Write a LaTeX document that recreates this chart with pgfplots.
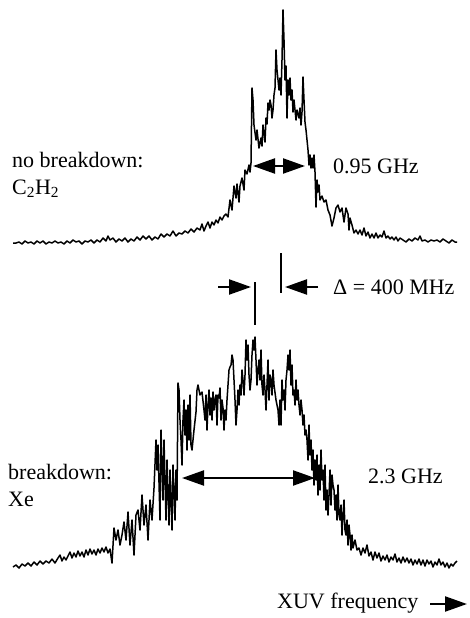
\documentclass[border=0pt]{standalone}
\usepackage{pgfplots}
\pgfplotsset{compat=1.18}
\usepackage{fontspec}
\setmainfont{Liberation Serif}
\usetikzlibrary{arrows.meta}
\newcommand{\bigf}{\fontsize{22}{27}\selectfont}
\tikzset{hd/.tip={Triangle[length=22pt,width=15pt]}}
\begin{document}
\begin{tikzpicture}
\begin{axis}[
  width=469pt, height=618pt, scale only axis,
  xmin=0, xmax=469, ymin=0, ymax=618, y dir=reverse,
  hide axis, clip=false,
]
\path[draw=none] (axis cs:0,0) rectangle (axis cs:469,618);
% upper spectrum: no breakdown, C2H2
\addplot[black, line width=1.5pt, line join=round] coordinates {
(13,243)(16,243)(19,242)(22,244)(25,241)(28,243)(31,242)(34,244)(37,241)(40,243)(43,241)(46,244)(49,242)(52,243)(55,241)(58,243)(61,242)(64,244)(67,241)(70,243)(73,240)(76,242)(79,241)(82,244)(85,241)(88,242)(91,240)(94,243)(97,240)(100,242)(103,238)(106,241)(108,236)(110,240)(113,238)(116,242)(119,239)(122,241)(125,238)(128,242)(131,239)(134,241)(137,237)(140,240)(143,236)(146,239)(149,236)(152,240)(155,237)(158,239)(161,234)(164,237)(167,234)(170,236)(173,231)(176,236)(179,233)(182,234)(185,231)(188,233)(191,229)(194,232)(197,228)(200,230)(202,224)(204,231)(206,226)(208,222)(210,228)(212,222)(214,225)(216,220)(218,223)(220,217)(222,220)(224,216)(226,214)(228,217)(230,200)(232,210)(234,186)(236,198)(237,184)(239,202)(240,186)(242,178)(244,190)(245,170)(247,174)(249,165)(250,172)(251,163)(252,88)(253,100)(254,125)(256,140)(257,130)(259,148)(261,138)(262,146)(263,125)(265,142)(266,118)(267,124)(268,103)(269,110)(270,100)(271,105)(272,118)(273,110)(274,95)(275,88)(276,50)(277,70)(278,80)(279,90)(280,78)(281,95)(282,60)(283,10)(284,40)(285,80)(286,66)(287,118)(288,80)(289,95)(290,78)(291,100)(292,90)(293,112)(294,100)(296,120)(297,110)(299,118)(300,108)(301,125)(302,112)(303,77)(304,100)(305,122)(306,130)(307,140)(308,150)(309,165)(310,155)(311,168)(312,158)(313,168)(314,155)(315,172)(316,207)(317,180)(318,192)(319,185)(320,200)(322,196)(324,202)(326,200)(328,210)(330,215)(332,226)(334,218)(336,208)(338,205)(340,212)(342,208)(344,222)(346,208)(348,214)(349,230)(350,218)(352,225)(354,233)(356,230)(358,234)(360,230)(362,235)(364,228)(366,236)(368,232)(370,238)(372,234)(374,238)(376,233)(378,238)(380,235)(382,237)(384,231)(386,238)(388,236)(390,239)(392,237)(394,240)(396,237)(398,241)(400,238)(403,240)(406,242)(409,239)(412,241)(415,238)(418,240)(420,236)(422,241)(425,240)(428,242)(431,240)(434,241)(437,240)(440,242)(443,239)(446,241)(449,243)(452,240)(455,242)(457,242)
};
% lower spectrum: breakdown, Xe
\addplot[black, line width=1.5pt, line join=round] coordinates {
(13,567)(16,565)(19,568)(22,564)(25,566)(28,563)(31,566)(34,562)(37,565)(40,561)(43,564)(46,561)(49,563)(52,559)(55,563)(58,558)(60,555)(62,561)(64,557)(66,560)(68,556)(70,552)(72,558)(74,553)(76,557)(78,551)(80,556)(82,552)(84,557)(86,550)(88,555)(90,549)(92,554)(94,550)(96,555)(98,549)(100,553)(102,548)(104,552)(106,547)(108,553)(110,549)(112,563)(114,528)(116,540)(118,530)(120,545)(122,535)(124,522)(126,540)(128,512)(130,545)(132,520)(134,555)(136,515)(138,510)(140,530)(142,495)(144,525)(146,505)(148,540)(150,500)(152,520)(154,488)(156,440)(157,470)(158,445)(160,520)(161,430)(163,500)(164,440)(166,520)(167,460)(169,525)(170,470)(172,530)(173,465)(175,520)(176,470)(177,500)(178,383)(179,390)(180,420)(181,440)(182,465)(183,420)(184,400)(185,435)(186,410)(187,450)(188,405)(189,440)(190,395)(191,445)(192,450)(194,430)(196,412)(197,390)(198,385)(200,395)(202,392)(204,410)(205,420)(206,395)(207,430)(208,405)(209,390)(210,415)(211,398)(212,420)(213,392)(214,410)(215,400)(216,395)(217,425)(218,395)(219,398)(220,388)(221,420)(222,400)(223,408)(224,430)(225,410)(226,420)(227,400)(228,385)(229,370)(230,367)(231,365)(232,355)(233,360)(234,380)(235,400)(236,425)(237,410)(238,390)(239,405)(240,385)(241,395)(242,370)(243,380)(244,395)(245,375)(246,340)(247,360)(248,345)(249,375)(250,390)(251,380)(252,355)(253,340)(254,350)(255,337)(256,360)(257,385)(258,370)(259,360)(260,380)(261,350)(262,385)(263,395)(264,375)(265,390)(266,410)(267,385)(268,360)(269,400)(270,375)(271,380)(272,395)(273,370)(274,385)(276,400)(278,410)(279,425)(280,400)(281,425)(282,380)(283,400)(284,390)(285,410)(286,380)(287,370)(288,355)(289,370)(290,350)(291,385)(292,365)(293,395)(294,390)(295,405)(296,380)(297,400)(298,390)(299,405)(300,415)(301,400)(302,410)(303,425)(304,415)(305,435)(306,430)(307,440)(308,460)(309,425)(310,455)(311,440)(312,470)(313,450)(314,485)(315,460)(316,480)(317,455)(318,495)(319,465)(320,490)(321,450)(322,480)(323,470)(324,500)(325,465)(326,510)(327,490)(328,515)(329,495)(330,470)(331,505)(332,475)(333,485)(334,490)(335,510)(336,495)(337,520)(338,485)(339,515)(340,520)(341,505)(342,535)(343,515)(344,500)(345,530)(346,535)(347,520)(348,545)(349,525)(350,535)(351,550)(352,535)(353,548)(355,540)(357,550)(359,548)(361,555)(363,548)(365,553)(367,545)(369,556)(371,552)(373,560)(375,552)(377,558)(379,553)(381,561)(383,556)(385,560)(387,555)(389,562)(391,557)(393,560)(395,554)(397,562)(399,558)(401,563)(403,557)(405,562)(407,558)(409,563)(411,559)(413,565)(415,560)(417,564)(419,559)(421,565)(423,560)(425,566)(427,560)(429,564)(431,561)(433,567)(435,562)(437,565)(439,559)(441,565)(443,562)(445,567)(447,563)(449,568)(451,564)(453,566)(455,563)(457,561)
};
% annotations
\draw[line width=2.2pt, hd-hd] (axis cs:253,166) -- (axis cs:305,166);
\node[anchor=west, inner sep=0pt, font=\bigf] at (axis cs:333,166) {0.95 GHz};
\node[anchor=west, inner sep=0pt, align=left, font=\bigf] at (axis cs:12,175) {no breakdown:\\C\textsubscript{2}H\textsubscript{2}};
\draw[line width=1.8pt] (axis cs:281,253) -- (axis cs:281,293);
\draw[line width=1.8pt] (axis cs:255,282) -- (axis cs:255,325);
\draw[line width=2.2pt, -hd] (axis cs:218,287) -- (axis cs:251,287);
\draw[line width=2.2pt, -hd] (axis cs:318,287) -- (axis cs:285,287);
\node[anchor=west, inner sep=0pt, font=\bigf] at (axis cs:333,287) {Δ = 400 MHz};
\draw[line width=2.2pt, hd-hd] (axis cs:182,478) -- (axis cs:315,478);
\node[anchor=west, inner sep=0pt, font=\bigf] at (axis cs:368,476) {2.3 GHz};
\node[anchor=west, inner sep=0pt, align=left, font=\bigf] at (axis cs:8,485) {breakdown:\\Xe};
\node[anchor=west, inner sep=0pt, font=\bigf] at (axis cs:277,603) {XUV frequency};
\draw[line width=2.2pt, -hd] (axis cs:430,604) -- (axis cs:467,604);
\end{axis}
\end{tikzpicture}
\end{document}
